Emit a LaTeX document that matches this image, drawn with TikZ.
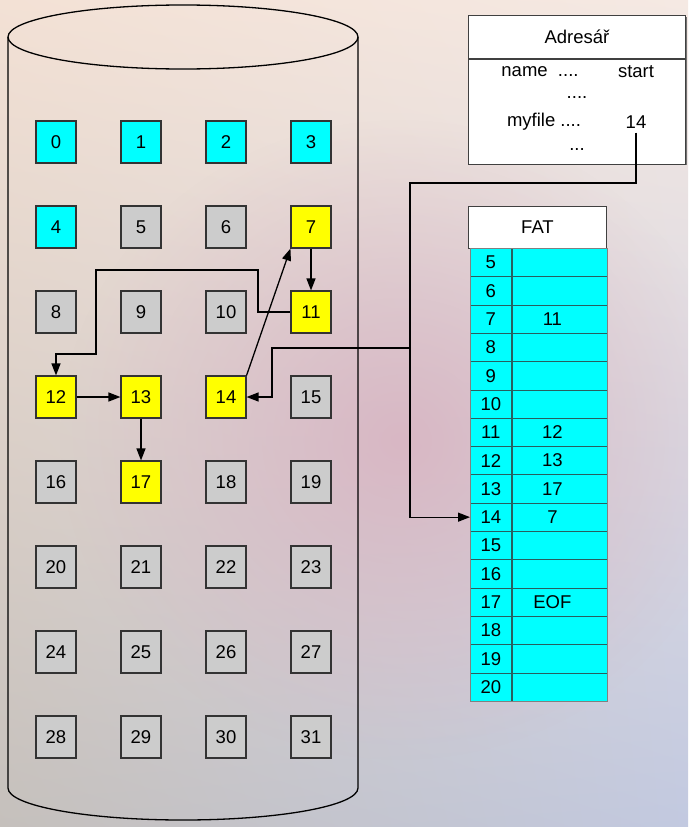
\documentclass[tikz,border=0pt]{standalone}
\usepackage{fontspec}
\setmainfont{Liberation Sans}
\usetikzlibrary{arrows.meta,positioning,calc,fadings,shadings}
\definecolor{blkcyan}{RGB}{0,255,255}
\definecolor{blkgray}{RGB}{204,204,204}
\definecolor{blkyellow}{RGB}{255,255,0}
\definecolor{bgtopleft}{RGB}{243,225,213}
\definecolor{bgtopright}{RGB}{245,233,227}
\definecolor{bgbotleft}{RGB}{197,192,188}
\definecolor{bgbotright}{RGB}{194,201,224}
\definecolor{bgpink}{RGB}{216,180,194}
\definecolor{fatline}{RGB}{40,95,95}
\tikzfading[name=blobfade,inner color=transparent!0,outer color=transparent!100]

\begin{document}
\begin{tikzpicture}[x=1pt,y=-1pt,
  every node/.style={font=\fontsize{18.5}{22}\selectfont,inner sep=0pt},
  blk/.style={draw=black!80,line width=1.1pt,minimum width=40pt,minimum height=42pt},
  link/.style={line width=1.3pt,-{Triangle[length=12pt,width=9pt]}},
  plain/.style={line width=1.3pt},
  tabhead/.style={draw=black!75,fill=white,line width=1pt},
  fatcell/.style={draw=fatline,fill=blkcyan,line width=0.6pt,minimum height=28.3pt}]
  \useasboundingbox (0,0) rectangle (688,827);
  % background
  \shade[upper left=bgtopleft,upper right=bgtopright,lower left=bgbotleft,lower right=bgbotright]
    (0,0) rectangle (688,827);
  \begin{scope}
    \clip (0,0) rectangle (688,827);
    \fill[bgpink,opacity=0.9,path fading=blobfade] (400,440) ellipse (340 and 320);
  \end{scope}

  % disk
  \draw[plain] (183,37) ellipse (175 and 32);
  \draw[plain] (8,37) -- (8,788) arc (180:0:175 and 32) -- (358,37);

  % blocks on the disk
  \foreach \n/\c in {0/blkcyan,1/blkcyan,2/blkcyan,3/blkcyan,4/blkcyan,5/blkgray,6/blkgray,7/blkyellow,
                     8/blkgray,9/blkgray,10/blkgray,11/blkyellow,12/blkyellow,13/blkyellow,14/blkyellow,15/blkgray,
                     16/blkgray,17/blkyellow,18/blkgray,19/blkgray,20/blkgray,21/blkgray,22/blkgray,23/blkgray,
                     24/blkgray,25/blkgray,26/blkgray,27/blkgray,28/blkgray,29/blkgray,30/blkgray,31/blkgray} {
    \pgfmathtruncatemacro{\col}{mod(\n,4)}
    \pgfmathtruncatemacro{\row}{div(\n,4)}
    \node[blk,fill=\c] (b\n) at (56+85*\col,142+85*\row) {\n};
  }

  % chain of myfile
  \coordinate (bendA) at (258,270);
  \coordinate (bendB) at (96,354);
  \draw[link] (b7) -- (b11);
  \draw[link] (b11.west) -| (bendA) -| (bendB) -| (b12.north);
  \draw[link] (b12) -- (b13);
  \draw[link] (b13) -- (b17);
  \draw[link] (b14.north east) -- (b7.south west);

  % directory
  \fill[black!55] (470,17) rectangle (687,165);
  \node[tabhead,anchor=north west,minimum width=217,minimum height=43] (dirhead) at (468,15) {Adresář};
  \node[tabhead,anchor=north west,minimum width=217,minimum height=105] (dirbody) at (dirhead.south west) {};
  \node (dname) at (540,72) {name~ ....};
  \node (dstart) at (636,72) {start};
  \node (ddotsA) at (577,98) {....};
  \node (dmyfile) at (544,122) {myfile ....};
  \node[inner ysep=4pt] (d14) at (636,122) {14};
  \node (ddotsB) at (577,150) {...};

  % FAT
  \node[tabhead,anchor=north west,minimum width=138,minimum height=42] (fathead) at (468,206) {FAT};
  \foreach \n/\v [count=\i from 0] in {5/{},6/{},7/11,8/{},9/{},10/{},11/12,12/13,13/17,14/7,
                                       15/{},16/{},17/EOF,18/{},19/{},20/{}} {
    \node[fatcell,anchor=north west,minimum width=41] (fat\n) at (470,248+28.3*\i) {\n};
    \node[fatcell,anchor=west,minimum width=95] (val\n) at (fat\n.east) {};
    \node (txt\n) at ([xshift=-7pt]val\n.center) {\v};
  }
  \draw[black!50,line width=1pt] (fat5.north west) rectangle (val20.south east);

  % pointers from the directory
  \coordinate (jtop) at (410,183);
  \coordinate (jmid) at (410,348);
  \coordinate (jleft) at (272,348);
  \draw[link] (d14.south) |- (jtop) |- (fat14.west);
  \draw[link] (jmid) -- (jleft) |- (b14.east);
\end{tikzpicture}
\end{document}
